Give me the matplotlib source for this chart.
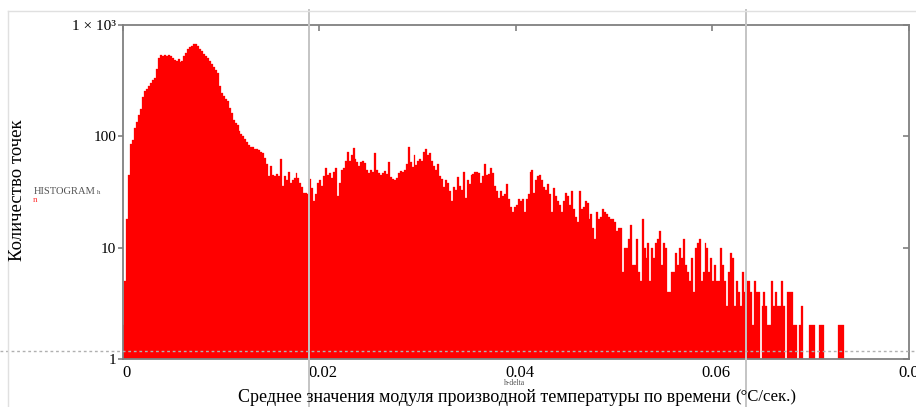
import matplotlib
matplotlib.use('Agg')
import matplotlib.pyplot as plt
import matplotlib.transforms as mtransforms
from matplotlib.ticker import FixedLocator, NullLocator, FixedFormatter
import numpy as np

plt.rcParams['font.family'] = ['Liberation Serif', 'DejaVu Serif']

# ---- data ----
bin_width = 0.0002
counts = [
    2, 5, 18, 45, 85, 92, 118, 135, 155, 175,
    225, 255, 265, 280, 300, 320, 335, 400, 500, 530,
    525, 540, 525, 540, 520, 500, 480, 470, 490, 460,
    470, 520, 560, 600, 630, 645, 670, 665, 640, 610,
    575, 545, 520, 505, 470, 440, 420, 395, 370, 280,
    245, 230, 215, 205, 180, 160, 140, 130, 125, 112,
    105, 100, 95, 88, 83, 80, 80, 76, 77, 75,
    72, 70, 64, 56, 44, 54, 45, 44, 46, 44,
    62, 36, 44, 40, 48, 38, 40, 42, 47, 42,
    38, 35, 31, 31, 30, 41, 34, 26, 30, 38,
    40, 36, 44, 52, 45, 47, 42, 48, 52, 29,
    38, 50, 52, 60, 72, 60, 68, 78, 62, 58,
    54, 58, 60, 57, 50, 47, 50, 48, 70, 50,
    47, 45, 47, 49, 46, 58, 43, 41, 40, 42,
    47, 49, 48, 50, 56, 80, 58, 53, 68, 55,
    60, 62, 60, 72, 76, 68, 70, 60, 54, 50,
    56, 44, 41, 35, 40, 38, 32, 26, 35, 33,
    43, 36, 33, 48, 28, 40, 37, 45, 46, 48,
    48, 47, 38, 44, 56, 45, 46, 52, 47, 36,
    32, 28, 32, 29, 30, 37, 27, 23, 21, 23,
    24, 27, 26, 27, 21, 27, 30, 48, 50, 31,
    40, 44, 45, 40, 35, 33, 37, 30, 21, 34,
    29, 26, 24, 21, 26, 31, 29, 24, 32, 22,
    19, 17, 32, 22, 23, 26, 25, 18, 20, 15,
    12, 21, 18, 19, 22, 21, 20, 19, 18, 18,
    17, 14, 15, 15, 6, 10, 10, 12, 16, 7,
    7, 12, 6, 5, 18, 10, 8, 11, 5, 10,
    8, 11, 12, 14, 7, 11, 10, 4, 4, 6,
    6, 9, 7, 10, 8, 12, 7, 6, 5, 8,
    4, 10, 11, 12, 5, 6, 11, 10, 6, 8,
    5, 7, 5, 5, 10, 7, 5, 3, 6, 9,
    8, 3, 5, 4, 3, 6, 4, 5, 5, 4,
    2, 5, 4, 4, 0, 3, 4, 3, 2, 2,
    5, 3, 4, 3, 3, 5, 3, 0, 4, 4,
    4, 2, 2, 0, 2, 3, 0, 0, 0, 2,
    2, 2, 0, 0, 2, 2, 2, 0, 0, 0,
    0, 0, 0, 0, 2, 2, 2,
]
x_ticks = [0, 0.02, 0.04, 0.06, 0.08]
x_tick_labels = ['0', '0.02', '0.04', '0.06', '0.08']
y_ticks = [1, 10, 100, 1000]
y_tick_labels = ['1', '10', '100', '1 × 10³']
cursor_x = [0.01895, 0.06346]
ref_y = 1.19

x_label_main = 'Среднее значения модуля производной температуры по времени'
x_label_unit = '(°C/сек.)'
y_label = 'Количество точек'

# ---- figure ----
W, H = 916, 407
fig = plt.figure(figsize=(W / 100, H / 100), dpi=100)
ax_l, ax_r, ax_t, ax_b = 122.5, 909, 24.7, 359
ax = fig.add_axes([ax_l / W, 1 - ax_b / H, (ax_r - ax_l) / W, (ax_b - ax_t) / H])

c = np.array(counts, dtype=float)
edges = np.arange(len(c)) * bin_width
m = c > 0
ax.bar(edges[m], c[m], width=bin_width, align='edge', color='#ff0000',
       edgecolor='#ff0000', linewidth=0.2, log=True, zorder=2)

ax.set_yscale('log')
ax.set_xlim(0, 0.08)
ax.set_ylim(1, 1000)

frame_col = '#808080'
for s in ax.spines.values():
    s.set_color(frame_col)
    s.set_linewidth(1.3)

ax.xaxis.set_major_locator(FixedLocator(x_ticks))
ax.xaxis.set_major_formatter(FixedFormatter(x_tick_labels))
ax.xaxis.set_minor_locator(NullLocator())
ax.yaxis.set_major_locator(FixedLocator(y_ticks))
ax.yaxis.set_major_formatter(FixedFormatter(y_tick_labels))
ax.yaxis.set_minor_locator(NullLocator())

ax.tick_params(axis='x', bottom=False, top=True, direction='in', length=4,
               color=frame_col, width=1.2, labelsize=12, pad=4)
ax.tick_params(axis='y', left=True, right=False, direction='out', length=3.5,
               color=frame_col, width=1.2, labelsize=11, pad=1)
shift = mtransforms.ScaledTranslation(4 / 100, 0, fig.dpi_scale_trans)
for lbl in ax.get_xticklabels():
    lbl.set_transform(lbl.get_transform() + shift)

sec = ax.secondary_yaxis('right')
sec.yaxis.set_major_locator(FixedLocator(y_ticks))
sec.yaxis.set_minor_locator(NullLocator())
sec.tick_params(direction='in', length=4, color=frame_col, width=1.2, labelright=False)
sec.spines['right'].set_visible(False)

# cursor lines spanning the whole picture
ymin_ax = (ax_b - H) / (ax_b - ax_t)
ymax_ax = (ax_b - 10) / (ax_b - ax_t)
for cx in cursor_x:
    ax.axvline(cx, ymin=ymin_ax, ymax=ymax_ax, color='#c4c4c4', lw=1.4,
               clip_on=False, zorder=3)

# dotted reference line across the picture
xmin_ax = (0 - ax_l) / (ax_r - ax_l)
xmax_ax = (W - ax_l) / (ax_r - ax_l)
ax.axhline(ref_y, xmin=xmin_ax, xmax=xmax_ax, color='#b0b0b0', lw=1.0,
           ls=(0, (2, 2)), clip_on=False, zorder=3)

# region border (light)
fig.add_artist(plt.Line2D([8 / W, 1], [1 - 11 / H, 1 - 11 / H], color='#e0e0e0', lw=1,
                          transform=fig.transFigure))
fig.add_artist(plt.Line2D([8 / W, 8 / W], [0, 1 - 11 / H], color='#e0e0e0', lw=1,
                          transform=fig.transFigure))

def fx(x):
    return x / W

def fy(y):
    return 1 - y / H

fig.text(fx(731), fy(397), x_label_main, ha='right', va='center', fontsize=13)
fig.text(fx(735), fy(397), x_label_unit, ha='left', va='center', fontsize=12)
fig.text(fx(18), fy(190), y_label, rotation=90, ha='center', va='center', fontsize=13.5)
fig.text(fx(34), fy(191), 'HISTOGRAM', ha='left', va='center', fontsize=7.6, color='#555555')
fig.text(fx(97), fy(193), 'h', ha='left', va='center', fontsize=5, color='#555555')
fig.text(fx(33), fy(200), 'n', ha='left', va='center', fontsize=6.5, color='#ff3030')
fig.text(fx(504), fy(383), 'h-delta', ha='left', va='center', fontsize=5.5, color='#555555')

fig.savefig('out.png', dpi=100)
